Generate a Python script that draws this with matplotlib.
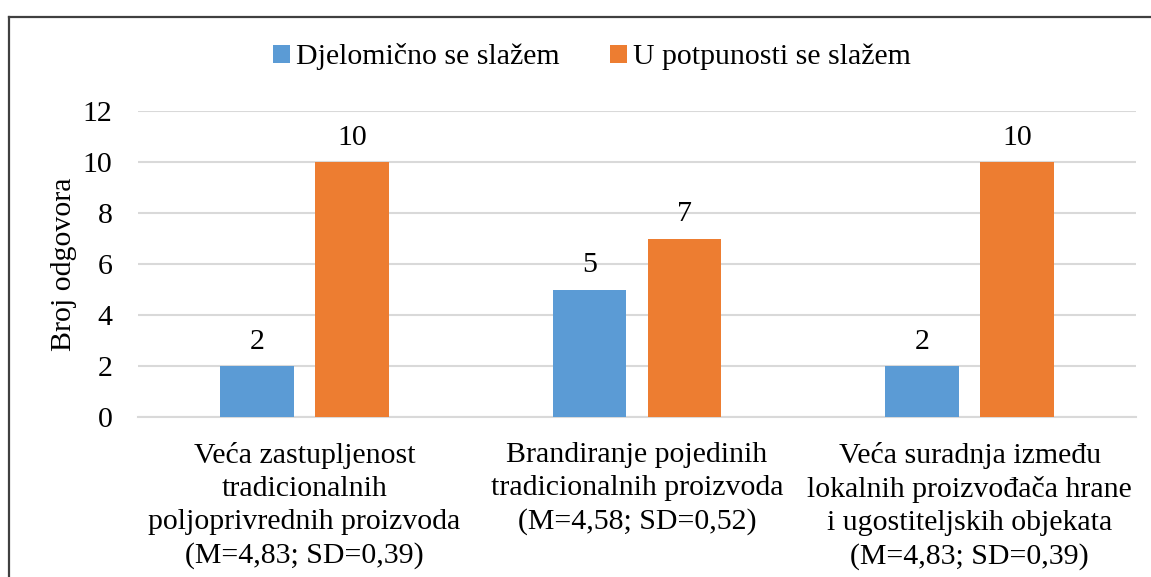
import matplotlib.pyplot as plt
import numpy as np
from matplotlib.lines import Line2D

plt.rcParams['font.family'] = ['Liberation Serif', 'DejaVu Serif']

CATEGORIES = [
    "Veća zastupljenost\ntradicionalnih\npoljoprivrednih proizvoda\n(M=4,83; SD=0,39)",
    "Brandiranje pojedinih\ntradicionalnih proizvoda\n(M=4,58; SD=0,52)",
    "Veća suradnja između\nlokalnih proizvođača hrane\ni ugostiteljskih objekata\n(M=4,83; SD=0,39)",
]
SERIES_NAMES = ["Djelomično se slažem", "U potpunosti se slažem"]
PARTLY_AGREE = [2, 5, 2]
FULLY_AGREE = [10, 7, 10]
Y_TICKS = [0, 2, 4, 6, 8, 10, 12]

BLUE = "#5B9BD5"
ORANGE = "#ED7D31"
FS = 21.5
W, H = 1151, 577

fig = plt.figure(figsize=(W / 100, H / 100), dpi=100)
ax = fig.add_axes([138 / W, 1 - 417 / H, (1136 - 138) / W, (417 - 111) / H])

x = np.arange(len(CATEGORIES))
bar_w = 0.222
offset = 0.143
b1 = ax.bar(x - offset, PARTLY_AGREE, bar_w, color=BLUE, label=SERIES_NAMES[0], zorder=3)
b2 = ax.bar(x + offset, FULLY_AGREE, bar_w, color=ORANGE, label=SERIES_NAMES[1], zorder=3)
for bars in (b1, b2):
    ax.bar_label(bars, padding=8, fontsize=FS)

ax.set_xlim(-0.5, len(CATEGORIES) - 0.5)
ax.set_ylim(0, 12)
ax.set_yticks(Y_TICKS)
ax.set_xticks(x)
ax.set_xticklabels(CATEGORIES, fontsize=FS, linespacing=1.34)
ax.tick_params(axis='y', length=0, pad=18.5, labelsize=FS)
ax.tick_params(axis='x', length=0, pad=18)
ax.grid(axis='y', color="#D9D9D9", linewidth=1.5, zorder=0)
for side in ("top", "right", "left"):
    ax.spines[side].set_visible(False)
ax.spines["bottom"].set_color("#D9D9D9")
ax.spines["bottom"].set_linewidth(1.5)
ax.set_ylabel("Broj odgovora", fontsize=FS, labelpad=4)

fig.legend(loc="center", bbox_to_anchor=(592 / W, 1 - 57 / H), ncol=2, frameon=False,
           fontsize=FS, handlelength=0.55, handleheight=0.55, handletextpad=0.2,
           columnspacing=1.7)

# outer chart frame: only its top and left edges fall inside the figure
frame_x, frame_y = 8.5 / W, 1 - 17 / H
fig.add_artist(Line2D([frame_x, 1.05], [frame_y, frame_y], transform=fig.transFigure,
                      color="#404040", linewidth=1.6))
fig.add_artist(Line2D([frame_x, frame_x], [-0.05, frame_y], transform=fig.transFigure,
                      color="#404040", linewidth=1.6))

fig.savefig("out.png", dpi=100)
